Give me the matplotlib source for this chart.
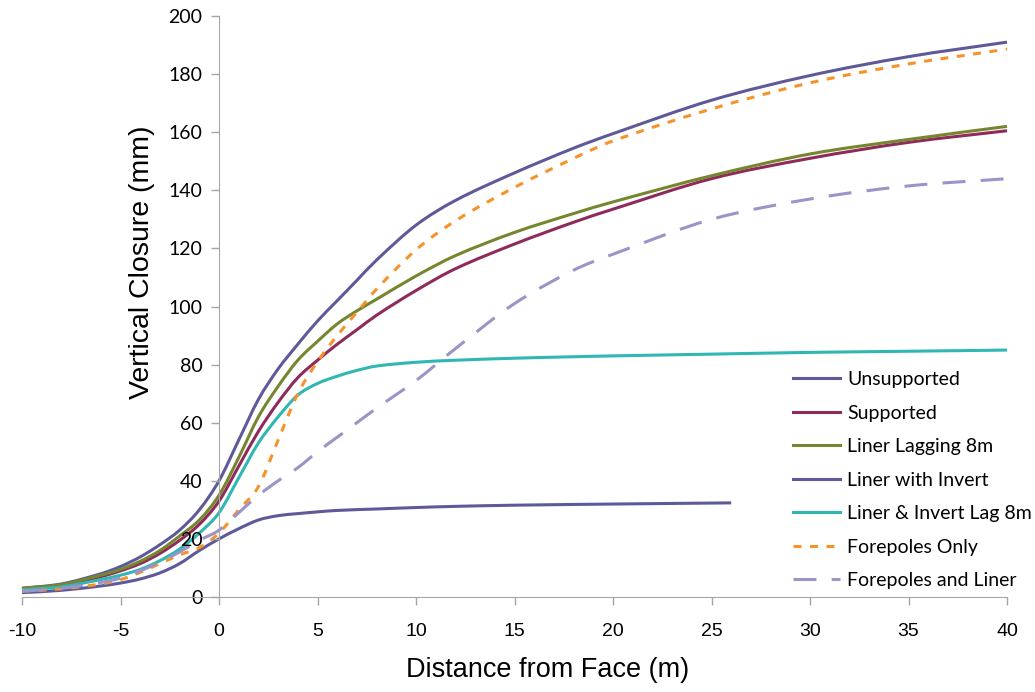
import matplotlib
matplotlib.use('Agg')
import matplotlib.pyplot as plt
from matplotlib.lines import Line2D
from matplotlib.patches import PathPatch
from matplotlib.path import Path

plt.rcParams['axes.unicode_minus'] = False

x_main = [-10, -8, -6, -5, -4, -3, -2, -1, 0, 1, 2, 3, 4, 5, 6, 7, 8, 10, 12, 15, 18, 20, 25, 30, 35, 40]

unsupported = [3, 4.5, 8, 10.5, 13.8, 18, 23, 30, 40, 54, 68, 78.5, 87, 95, 102, 109, 116, 128, 136.5, 146, 154.5, 159.5, 171, 179.5, 186, 191]
supported = [2.8, 4, 7, 9, 11.5, 15, 19.5, 25, 33, 45, 57, 67, 75.5, 81.5, 87, 92, 97, 105.5, 113, 121.5, 129, 133.5, 144, 151, 156.5, 160.5]
liner_lag = [3, 4.3, 7.5, 9.5, 12.3, 16, 21, 26.5, 35, 48, 62, 72.5, 81.5, 88, 94, 98.5, 102.5, 110.5, 117.5, 125.5, 132, 136, 145, 152.5, 157.5, 162]
liner_invert_lag = [2.5, 3.5, 6, 7.5, 9.5, 12.5, 16.5, 22, 29, 41, 53, 62, 69.5, 73.5, 76, 78, 79.5, 80.8, 81.5, 82.2, 82.7, 83, 83.6, 84.2, 84.6, 85]
forepoles_only = [2, 2.8, 4.5, 6, 8.5, 11.5, 14.5, 17, 22, 30, 38, 54, 70, 81, 90, 98, 106, 119.5, 129.5, 141, 151, 157, 168, 177, 183.5, 188.6]
forepoles_liner = [2, 3, 5, 6.5, 9, 12, 15.5, 19.5, 23, 29, 35, 40, 44.5, 50, 55, 60, 65, 74.5, 85.5, 101, 112.5, 118, 130, 137, 141.5, 144]

x_invert = [-10, -8, -6, -5, -4, -3, -2, -1, 0, 1, 2, 3, 4, 5, 6, 8, 10, 12, 15, 20, 26]
liner_invert = [1.5, 2.3, 3.8, 4.8, 6.2, 8.3, 11.5, 16, 20, 23.5, 26.5, 28, 28.7, 29.3, 29.8, 30.3, 30.8, 31.2, 31.6, 32, 32.4]

x_ticks = list(range(-10, 41, 5))
y_ticks = list(range(0, 201, 20))


def smooth_path(xs, ys):
    # smoothed line like the spreadsheet draws it: cubic Bezier through each point
    n = len(xs)
    slopes = []
    for i in range(n):
        a, b = max(i - 1, 0), min(i + 1, n - 1)
        slopes.append((ys[b] - ys[a]) / (xs[b] - xs[a]))
    verts = [(xs[0], ys[0])]
    codes = [Path.MOVETO]
    for i in range(n - 1):
        h = xs[i + 1] - xs[i]
        verts += [(xs[i] + h / 3, ys[i] + slopes[i] * h / 3),
                  (xs[i + 1] - h / 3, ys[i + 1] - slopes[i + 1] * h / 3),
                  (xs[i + 1], ys[i + 1])]
        codes += [Path.CURVE4] * 3
    return Path(verts, codes)


fig = plt.figure(figsize=(10.35, 6.92), dpi=100)
ax = fig.add_axes([22 / 1035, 1 - 597 / 692, (1007 - 22) / 1035, (597 - 16) / 692])

lw = 2.2
series = [
    ('Unsupported', x_main, unsupported, '#5E5A9A', None),
    ('Supported', x_main, supported, '#8E2B5B', None),
    ('Liner Lagging 8m', x_main, liner_lag, '#76862F', None),
    ('Liner with Invert', x_invert, liner_invert, '#5E5A9A', None),
    ('Liner & Invert Lag 8m', x_main, liner_invert_lag, '#2FB7B4', None),
    ('Forepoles Only', x_main, forepoles_only, '#F7922A', (2.6, 2.8)),
    ('Forepoles and Liner', x_main, forepoles_liner, '#9A94C8', (7.5, 5)),
]
handles = []
for label, xs, ys, color, dashes in series:
    ls = (0, dashes) if dashes else '-'
    patch = PathPatch(smooth_path(xs, ys), fill=False, edgecolor=color, lw=lw,
                      linestyle=ls, clip_on=False, joinstyle='round', capstyle='butt')
    ax.add_patch(patch)
    handles.append(Line2D([], [], color=color, lw=lw, linestyle=ls, label=label))

ax.set_xlim(-10, 40)
ax.set_ylim(0, 200)
ax.set_xticks(x_ticks)
ax.set_yticks(y_ticks)

grey = '#A6A6A6'
ax.spines['top'].set_visible(False)
ax.spines['right'].set_visible(False)
ax.spines['left'].set_position(('data', 0))
ax.spines['left'].set_color(grey)
ax.spines['bottom'].set_color(grey)
ax.tick_params(axis='both', colors=grey, length=6, width=1, direction='out')
ax.tick_params(axis='x', labelcolor='black', pad=13)
ax.tick_params(axis='y', labelcolor='black', pad=6)

for t in ax.get_xticklabels():
    t.set_fontfamily(['Liberation Sans', 'DejaVu Sans'])
    t.set_fontsize(14)
for t in ax.get_yticklabels():
    t.set_fontfamily(['Lato', 'DejaVu Sans'])
    t.set_fontsize(14)

fig.text(548 / 1035, 1 - 670 / 692, 'Distance from Face (m)', ha='center', va='center',
         fontsize=19.5, family=['Liberation Sans', 'DejaVu Sans'])
fig.text(142 / 1035, 1 - 262 / 692, 'Vertical Closure (mm)', ha='center', va='center',
         rotation=90, fontsize=20.5, family=['Liberation Sans', 'DejaVu Sans'])

ax.legend(handles=handles, loc='upper left', bbox_to_anchor=(793 / 1035, 1 - 371 / 692),
          bbox_transform=fig.transFigure, frameon=False, borderpad=0,
          borderaxespad=0, handlelength=2.4, handletextpad=0.4,
          labelspacing=0.85, prop={'family': ['Lato', 'DejaVu Sans'], 'size': 14})

fig.savefig('out.png', dpi=100)
